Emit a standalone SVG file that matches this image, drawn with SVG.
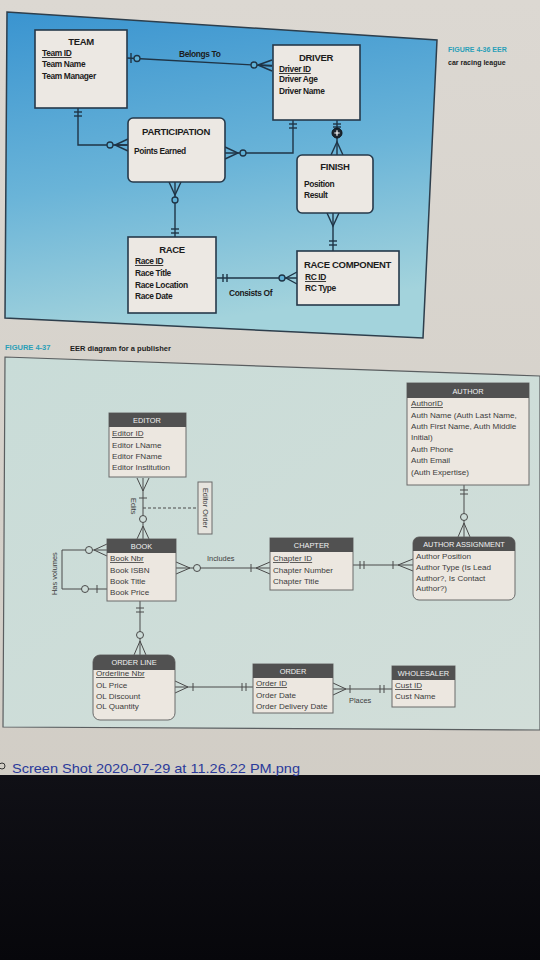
<svg xmlns="http://www.w3.org/2000/svg" width="540" height="960" viewBox="0 0 540 960">
<defs>
<linearGradient id="page" x1="0" y1="0" x2="0" y2="1">
<stop offset="0" stop-color="#dcd8d2"/><stop offset="1" stop-color="#cfcbc3"/>
</linearGradient>
<linearGradient id="blue" x1="0" y1="0" x2="0.2" y2="1">
<stop offset="0" stop-color="#3a94d0"/><stop offset="0.55" stop-color="#6ab4d8"/><stop offset="1" stop-color="#a3d3dc"/>
</linearGradient>
<linearGradient id="mint" x1="0" y1="0" x2="1" y2="1">
<stop offset="0" stop-color="#c9dcd8"/><stop offset="1" stop-color="#d2ded9"/>
</linearGradient>
<linearGradient id="dark" x1="0" y1="0" x2="0" y2="1">
<stop offset="0" stop-color="#101016"/><stop offset="1" stop-color="#07070b"/>
</linearGradient>
<style>
.tb{fill:#ece8e3;stroke:#26394a;stroke-width:1.6}
.tt{font-family:"Liberation Sans",Arial,sans-serif;font-weight:bold;font-size:9.5px;fill:#1c1c1c;letter-spacing:-0.3px}
.ta{font-family:"Liberation Sans",Arial,sans-serif;font-weight:bold;font-size:8.4px;fill:#1c1c1c;letter-spacing:-0.35px}
.tl{fill:none;stroke:#1f3446;stroke-width:1.4}
.tc{fill:#5fb0d6;stroke:#1f3446;stroke-width:1.3}
.bb{fill:#ece7e0;stroke:#6a6a6a;stroke-width:1}
.bh{fill:#515151}
.bt{font-family:"Liberation Sans",Arial,sans-serif;font-size:7.4px;fill:#f2f2f2;text-anchor:middle}
.ba{font-family:"Liberation Sans",Arial,sans-serif;font-size:8.1px;fill:#3c3c3c}
.bl{fill:none;stroke:#4a4a4a;stroke-width:1}
.bc{fill:#cddcd8;stroke:#4a4a4a;stroke-width:1}
.lab{font-family:"Liberation Sans",Arial,sans-serif;font-size:7.4px;fill:#3c3c3c}
</style>
</defs>

<!-- background -->
<rect x="0" y="0" width="540" height="960" fill="url(#page)"/>
<rect x="0" y="775" width="540" height="185" fill="url(#dark)"/>

<!-- top panel -->
<polygon points="7,12 437,40 423,338 5,318" fill="url(#blue)" stroke="#2d3e4c" stroke-width="1.5"/>
<text x="448" y="52" font-family="Liberation Sans, Arial, sans-serif" font-weight="bold" font-size="7" fill="#2a9fb8">FIGURE 4-36  EER</text>
<text x="448" y="65" font-family="Liberation Sans, Arial, sans-serif" font-weight="bold" font-size="7" fill="#1c1c1c">car racing league</text>

<!-- top connectors -->
<g id="top-connectors">
<line class="tl" x1="127" y1="58" x2="272" y2="66"/>
<line class="tl" x1="131" y1="53" x2="131" y2="63"/>
<circle class="tc" cx="137" cy="58.5" r="3"/>
<polyline class="tl" points="272,60 258,65 272,65.5"/><line class="tl" x1="258" y1="65" x2="272" y2="71"/>
<circle class="tc" cx="254" cy="65" r="3"/>
<text class="ta" x="179" y="57">Belongs To</text>

<path class="tl" d="M78,108 V145 H128"/>
<line class="tl" x1="74" y1="112" x2="82" y2="112"/><line class="tl" x1="74" y1="116" x2="82" y2="116"/>
<path class="tl" d="M128,139 L115,145 L128,151 M115,145 H128"/>
<circle class="tc" cx="110" cy="145" r="3"/>

<path class="tl" d="M293,120 V153 H225"/>
<line class="tl" x1="289" y1="124" x2="297" y2="124"/><line class="tl" x1="289" y1="128" x2="297" y2="128"/>
<path class="tl" d="M225,147 L238,153 L225,159"/>
<circle class="tc" cx="243" cy="153" r="3"/>

<line class="tl" x1="337" y1="120" x2="337" y2="155"/>
<line class="tl" x1="333" y1="124" x2="341" y2="124"/><line class="tl" x1="333" y1="127" x2="341" y2="127"/>
<path class="tl" d="M331,155 L337,142 L343,155"/>
<circle cx="337" cy="133" r="5" fill="#1c2630" stroke="#0e1318" stroke-width="1"/>
<path d="M334.3,133 H339.7 M337,130.3 V135.7" stroke="#ffffff" stroke-width="1.2"/>

<line class="tl" x1="175" y1="182" x2="175" y2="237"/>
<path class="tl" d="M169,182 L175,195 L181,182"/>
<circle class="tc" cx="175" cy="200" r="3"/>
<line class="tl" x1="171" y1="229" x2="179" y2="229"/><line class="tl" x1="171" y1="233" x2="179" y2="233"/>

<line class="tl" x1="333" y1="213" x2="333" y2="251"/>
<path class="tl" d="M327,213 L333,226 L339,213"/>
<line class="tl" x1="329" y1="241" x2="337" y2="241"/><line class="tl" x1="329" y1="245" x2="337" y2="245"/>

<line class="tl" x1="217" y1="278" x2="297" y2="278"/>
<line class="tl" x1="223" y1="274" x2="223" y2="282"/><line class="tl" x1="227" y1="274" x2="227" y2="282"/>
<path class="tl" d="M297,272 L286,278 L297,284"/>
<circle class="tc" cx="282" cy="278" r="3"/>
<text class="ta" x="229" y="296">Consists Of</text>
</g>

<!-- top nodes -->
<g id="team">
<rect class="tb" x="35" y="30" width="92" height="78"/>
<text class="tt" x="81" y="45" text-anchor="middle">TEAM</text>
<text class="ta" x="42" y="56" text-decoration="underline">Team ID</text>
<text class="ta" x="42" y="67">Team Name</text>
<text class="ta" x="42" y="79">Team Manager</text>
</g>
<g id="driver">
<rect class="tb" x="273" y="45" width="87" height="75"/>
<text class="tt" x="316" y="61" text-anchor="middle">DRIVER</text>
<text class="ta" x="279" y="72" text-decoration="underline">Driver ID</text>
<text class="ta" x="279" y="82">Driver Age</text>
<text class="ta" x="279" y="94">Driver Name</text>
</g>
<g id="participation">
<rect class="tb" x="128" y="118" width="97" height="64" rx="5"/>
<text class="tt" x="176" y="135" text-anchor="middle">PARTICIPATION</text>
<text class="ta" x="134" y="154">Points Earned</text>
</g>
<g id="finish">
<rect class="tb" x="297" y="155" width="76" height="58" rx="5"/>
<text class="tt" x="335" y="170" text-anchor="middle">FINISH</text>
<text class="ta" x="304" y="187">Position</text>
<text class="ta" x="304" y="198">Result</text>
</g>
<g id="race">
<rect class="tb" x="128" y="237" width="88" height="76"/>
<text class="tt" x="172" y="253" text-anchor="middle">RACE</text>
<text class="ta" x="135" y="264" text-decoration="underline">Race ID</text>
<text class="ta" x="135" y="276">Race Title</text>
<text class="ta" x="135" y="288">Race Location</text>
<text class="ta" x="135" y="299">Race Date</text>
</g>
<g id="race-component">
<rect class="tb" x="297" y="251" width="102" height="54"/>
<text class="tt" x="304" y="268">RACE COMPONENT</text>
<text class="ta" x="305" y="280" text-decoration="underline">RC ID</text>
<text class="ta" x="305" y="291">RC Type</text>
</g>

<!-- figure 4-37 caption -->
<text x="5" y="350" font-family="Liberation Sans, Arial, sans-serif" font-weight="bold" font-size="7.5" fill="#2a9fb8">FIGURE 4-37</text>
<text x="70" y="351" font-family="Liberation Sans, Arial, sans-serif" font-weight="bold" font-size="7.5" fill="#1c1c1c">EER diagram for a publisher</text>

<!-- bottom panel -->
<polygon points="5,357 540,376 540,730 3,727" fill="url(#mint)" stroke="#5a5e60" stroke-width="1.2"/>

<!-- bottom connectors -->
<g id="bottom-connectors">
<line class="bl" x1="143" y1="478" x2="143" y2="539"/>
<path class="bl" d="M137,478 L143,491 L149,478"/>
<line class="bl" x1="139" y1="498" x2="147" y2="498"/>
<circle class="bc" cx="143" cy="519" r="3.5"/>
<path class="bl" d="M137,539 L143,526 L149,539"/>
<line class="bl" x1="143" y1="508" x2="198" y2="508" stroke-dasharray="3,2"/>
<text class="lab" transform="translate(131,498) rotate(90)">Edits</text>

<path class="bl" d="M107,550 H62 V589 H107"/>
<path class="bl" d="M107,544 L94,550 L107,556"/>
<circle class="bc" cx="89" cy="550" r="3.5"/>
<circle class="bc" cx="85" cy="589" r="3.5"/>
<line class="bl" x1="97" y1="585" x2="97" y2="593"/>
<text class="lab" transform="translate(57,595) rotate(-90)">Has volumes</text>

<line class="bl" x1="176" y1="568" x2="270" y2="568"/>
<path class="bl" d="M176,562 L190,568 L176,574"/>
<circle class="bc" cx="197" cy="568" r="3.5"/>
<line class="bl" x1="251" y1="564" x2="251" y2="572"/>
<path class="bl" d="M270,562 L256,568 L270,574"/>
<text class="lab" x="207" y="561">Includes</text>

<line class="bl" x1="353" y1="565" x2="413" y2="565"/>
<line class="bl" x1="360" y1="561" x2="360" y2="569"/><line class="bl" x1="364" y1="561" x2="364" y2="569"/>
<line class="bl" x1="393" y1="561" x2="393" y2="569"/>
<path class="bl" d="M413,559 L398,565 L413,571"/>

<line class="bl" x1="464" y1="485" x2="464" y2="537"/>
<line class="bl" x1="460" y1="490" x2="468" y2="490"/><line class="bl" x1="460" y1="494" x2="468" y2="494"/>
<circle class="bc" cx="464" cy="517" r="3.5"/>
<path class="bl" d="M458,537 L464,523 L470,537"/>

<line class="bl" x1="140" y1="601" x2="140" y2="655"/>
<line class="bl" x1="136" y1="608" x2="144" y2="608"/><line class="bl" x1="136" y1="612" x2="144" y2="612"/>
<circle class="bc" cx="140" cy="635" r="3.5"/>
<path class="bl" d="M134,655 L140,641 L146,655"/>

<line class="bl" x1="175" y1="687" x2="253" y2="687"/>
<path class="bl" d="M175,681 L188,687 L175,693"/>
<line class="bl" x1="193" y1="683" x2="193" y2="691"/>
<line class="bl" x1="242" y1="683" x2="242" y2="691"/><line class="bl" x1="246" y1="683" x2="246" y2="691"/>

<line class="bl" x1="333" y1="689" x2="392" y2="689"/>
<path class="bl" d="M333,683 L346,689 L333,695"/>
<line class="bl" x1="350" y1="685" x2="350" y2="693"/>
<line class="bl" x1="380" y1="685" x2="380" y2="693"/><line class="bl" x1="384" y1="685" x2="384" y2="693"/>
<text class="lab" x="349" y="703">Places</text>
</g>

<!-- bottom nodes -->
<g id="editor-order">
<rect x="198" y="482" width="14" height="52" fill="#e6e4de" stroke="#6a6a6a" stroke-width="1"/>
<text class="lab" transform="translate(202.5,508) rotate(90)" text-anchor="middle">Editor Order</text>
</g>
<g id="editor">
<rect class="bb" x="109" y="413" width="77" height="64"/>
<rect class="bh" x="109" y="413" width="77" height="14"/>
<text class="bt" x="147" y="423">EDITOR</text>
<text class="ba" x="112" y="436" text-decoration="underline">Editor ID</text>
<text class="ba" x="112" y="448">Editor LName</text>
<text class="ba" x="112" y="459">Editor FName</text>
<text class="ba" x="112" y="470">Editor Institution</text>
</g>
<g id="author">
<rect class="bb" x="407" y="383" width="122" height="102"/>
<rect class="bh" x="407" y="383" width="122" height="15"/>
<text class="bt" x="468" y="394">AUTHOR</text>
<text class="ba" x="411" y="406" text-decoration="underline">AuthorID</text>
<text class="ba" x="411" y="418">Auth Name (Auth Last Name,</text>
<text class="ba" x="411" y="429">Auth First Name, Auth Middle</text>
<text class="ba" x="411" y="440">Initial)</text>
<text class="ba" x="411" y="452">Auth Phone</text>
<text class="ba" x="411" y="463">Auth Email</text>
<text class="ba" x="411" y="475">(Auth Expertise)</text>
</g>
<g id="book">
<rect class="bb" x="107" y="539" width="69" height="62"/>
<rect class="bh" x="107" y="539" width="69" height="14"/>
<text class="bt" x="141.5" y="549">BOOK</text>
<text class="ba" x="110" y="561" text-decoration="underline">Book Nbr</text>
<text class="ba" x="110" y="573">Book ISBN</text>
<text class="ba" x="110" y="584">Book Title</text>
<text class="ba" x="110" y="595">Book Price</text>
</g>
<g id="chapter">
<rect class="bb" x="270" y="538" width="83" height="52"/>
<rect class="bh" x="270" y="538" width="83" height="14"/>
<text class="bt" x="311.5" y="548">CHAPTER</text>
<text class="ba" x="273" y="561" text-decoration="underline">Chapter ID</text>
<text class="ba" x="273" y="573">Chapter Number</text>
<text class="ba" x="273" y="584">Chapter Title</text>
</g>
<g id="author-assignment">
<rect class="bb" x="413" y="537" width="102" height="63" rx="6"/>
<path class="bh" d="M413,551 V543 A6,6 0 0 1 419,537 H509 A6,6 0 0 1 515,543 V551 Z"/>
<text class="bt" x="464" y="547">AUTHOR ASSIGNMENT</text>
<text class="ba" x="416" y="559">Author Position</text>
<text class="ba" x="416" y="570">Author Type (Is Lead</text>
<text class="ba" x="416" y="581">Author?, Is Contact</text>
<text class="ba" x="416" y="591">Author?)</text>
</g>
<g id="order-line">
<rect class="bb" x="93" y="655" width="82" height="65" rx="7"/>
<path class="bh" d="M93,670 V662 A7,7 0 0 1 100,655 H168 A7,7 0 0 1 175,662 V670 Z"/>
<text class="bt" x="134" y="665">ORDER LINE</text>
<text class="ba" x="96" y="676" text-decoration="underline">Orderline Nbr</text>
<text class="ba" x="96" y="688">OL Price</text>
<text class="ba" x="96" y="699">OL Discount</text>
<text class="ba" x="96" y="709">OL Quantity</text>
</g>
<g id="order">
<rect class="bb" x="253" y="664" width="80" height="49"/>
<rect class="bh" x="253" y="664" width="80" height="14"/>
<text class="bt" x="293" y="674">ORDER</text>
<text class="ba" x="256" y="686" text-decoration="underline">Order ID</text>
<text class="ba" x="256" y="698">Order Date</text>
<text class="ba" x="256" y="709">Order Delivery Date</text>
</g>
<g id="wholesaler">
<rect class="bb" x="392" y="666" width="63" height="41"/>
<rect class="bh" x="392" y="666" width="63" height="14"/>
<text class="bt" x="423.5" y="676">WHOLESALER</text>
<text class="ba" x="395" y="688" text-decoration="underline">Cust ID</text>
<text class="ba" x="395" y="699">Cust Name</text>
</g>

<!-- screenshot caption -->
<circle cx="2" cy="766" r="3" fill="none" stroke="#333" stroke-width="1"/>
<text x="12" y="773" font-family="Liberation Sans, Arial, sans-serif" font-size="13" fill="#2a3a9a" textLength="288" lengthAdjust="spacingAndGlyphs">Screen Shot 2020-07-29 at 11.26.22 PM.png</text>
</svg>
